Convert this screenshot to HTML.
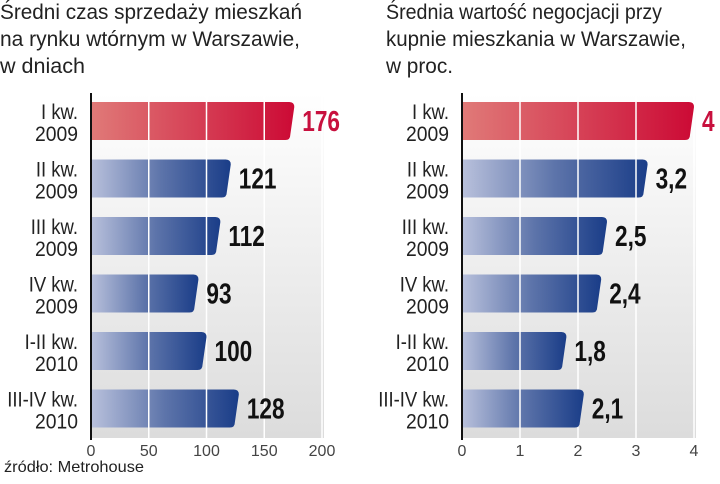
<!DOCTYPE html>
<html><head><meta charset="utf-8"><style>
body{margin:0;background:#fff;width:720px;height:479px;overflow:hidden}
svg text{font-family:"Liberation Sans",sans-serif}
</style></head><body>
<svg id="s" width="720" height="479" xmlns="http://www.w3.org/2000/svg">
<defs>
<linearGradient id="bg" x1="0" y1="0" x2="0" y2="1"><stop offset="0" stop-color="#ffffff"/><stop offset="1" stop-color="#dcdcdc"/></linearGradient>
<linearGradient id="blue" x1="0" y1="0" x2="1" y2="0"><stop offset="0" stop-color="#b9c1dc"/><stop offset="0.5" stop-color="#5d74aa"/><stop offset="1" stop-color="#1a3d88"/></linearGradient>
<linearGradient id="red" x1="0" y1="0" x2="1" y2="0"><stop offset="0" stop-color="#e07a78"/><stop offset="1" stop-color="#cc0a35"/></linearGradient>
</defs>
<g fill="#222" font-size="21" style="font-weight:300">
<text x="0" y="19" textLength="302" lengthAdjust="spacingAndGlyphs">Średni czas sprzedaży mieszkań</text>
<text x="0" y="46" textLength="300" lengthAdjust="spacingAndGlyphs">na rynku wtórnym w Warszawie,</text>
<text x="0" y="73" textLength="85" lengthAdjust="spacingAndGlyphs">w dniach</text>
</g>
<g fill="#222" font-size="21">
<text x="386" y="19" textLength="276" lengthAdjust="spacingAndGlyphs">Średnia wartość negocjacji przy</text>
<text x="386" y="46" textLength="300" lengthAdjust="spacingAndGlyphs">kupnie mieszkania w Warszawie,</text>
<text x="386" y="73" textLength="67" lengthAdjust="spacingAndGlyphs">w proc.</text>
</g>
<text x="4" y="472" font-size="16" fill="#222" textLength="140" lengthAdjust="spacingAndGlyphs">źródło: Metrohouse</text>
</svg>
<script>
const categories1 = ["I kw.|2009","II kw.|2009","III kw.|2009","IV kw.|2009","I-II kw.|2010","III-IV kw.|2010"];
const values1 = [176,121,112,93,100,128];
const labels1 = ["176","121","112","93","100","128"];
const ticks1 = [0,50,100,150,200];
const values2 = [4,3.2,2.5,2.4,1.8,2.1];
const labels2 = ["4","3,2","2,5","2,4","1,8","2,1"];
const ticks2 = [0,1,2,3,4];
const NS="http://www.w3.org/2000/svg";
const svg=document.getElementById('s');
function mk(t,a,p){const e=document.createElementNS(NS,t);for(const k in a)e.setAttribute(k,a[k]);(p||svg).appendChild(e);return e;}
function chart(name,x0,xmax,maxV,vals,labs,ticks){
  const g=mk('g',{});
  
  
  const sx=v=>x0+v*(xmax-x0)/maxV;
  const top=93,bottom=438,n=categories1.length,pitch=(bottom-top)/n;
  const bgr=mk('rect',{x:x0,y:top,width:xmax-x0+2,height:bottom-top,fill:'url(#bg)'},g);
  
  
  ticks.forEach(tv=>{
    const x=sx(tv);
    if(tv>0){const l=mk('line',{x1:x,x2:x,y1:top,y2:bottom,stroke:'#fff','stroke-width':1.5},g);
    
    }
    const t=mk('text',{x:x,y:456,'font-size':16,fill:'#444','text-anchor':'middle','font-weight':'300'},g);
    t.textContent=String(tv);
    
    
  });
  vals.forEach((v,i)=>{
    const y=top+9+i*pitch,h=38,xe=sx(v),r=5;
    const p=mk('path',{d:`M${x0} ${y}H${xe-r}Q${xe} ${y} ${xe} ${y+r}L${xe-4} ${y+h-r}Q${xe-4} ${y+h} ${xe-9} ${y+h}H${x0}Z`,fill:i===0?'url(#red)':'url(#blue)'},g);
    
    
    for(const tv of ticks){ if(tv>0 && sx(tv)<xe-6){const l=mk('line',{x1:sx(tv),x2:sx(tv),y1:y,y2:y+h,stroke:'#fff','stroke-width':1.5},g);
      
      }}
    const t=mk('text',{x:0,y:0,'font-size':29,'font-weight':'bold',fill:i===0?'#c8103e':'#111',transform:`translate(${xe+8} ${y+h/2+10}) scale(0.78 1)`},g);
    t.textContent=labs[i];
    
    
    const [a,b]=categories1[i].split('|');
    const c=mk('text',{x:0,y:0,'font-size':21,fill:'#222','text-anchor':'end',transform:`translate(${x0-13} ${y+17}) scale(0.88 1)`},g);
    c.textContent=a;
    
    
    const c2=mk('text',{x:0,y:0,'font-size':21,fill:'#222','text-anchor':'end',transform:`translate(${x0-13} ${y+39}) scale(0.92 1)`},g);
    c2.textContent=b;
    
    
  });
  const ax=mk('line',{x1:x0,x2:x0,y1:top,y2:bottom+2,stroke:'#111','stroke-width':2},g);
  
  
}
chart('left-chart',91,322,200,values1,labels1,ticks1);
chart('right-chart',462,694,4,values2,labels2,ticks2);
</script>
</body></html>
